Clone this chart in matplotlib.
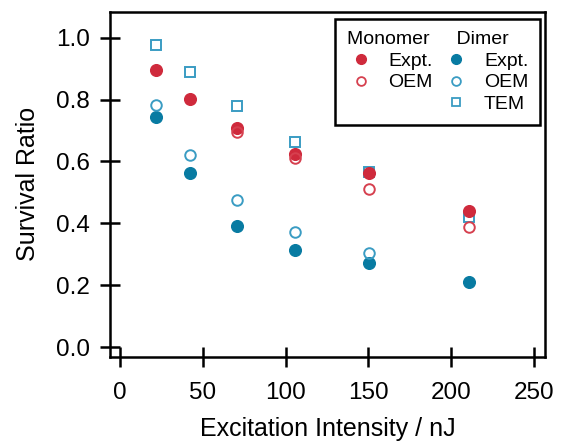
import numpy as np
import matplotlib
matplotlib.use("Agg")
import matplotlib.pyplot as plt
from matplotlib.lines import Line2D

plt.rcParams['font.family'] = ['Liberation Sans', 'DejaVu Sans']

# excitation intensity (nJ)
intensity = [21.5, 42, 70.5, 105.5, 150.5, 210.5]

# survival ratios
monomer_expt = [0.895, 0.803, 0.707, 0.623, 0.562, 0.440]
monomer_oem = [np.nan, np.nan, 0.695, 0.610, 0.511, 0.387]
dimer_expt = [0.744, 0.563, 0.392, 0.314, 0.271, 0.210]
dimer_oem = [0.783, 0.620, 0.477, 0.373, 0.303, np.nan]
dimer_tem = [0.976, 0.890, 0.779, 0.664, 0.567, 0.419]

red = '#cf2a3c'
red_open = '#d6404f'
blue = '#087ba2'
blue_open = '#3a9cc3'

fig = plt.figure(figsize=(5.64, 4.41), dpi=100)
ax = fig.add_axes([110 / 564, 1 - 357 / 441, 435 / 564, 345.3 / 441])

ms = 8.4
ax.plot(intensity, dimer_tem, 's', ms=7.6, mfc='none', mec=blue_open, mew=1.4)
ax.plot(intensity, monomer_expt, 'o', ms=ms, color=red, mec=red)
ax.plot(intensity, monomer_oem, 'o', ms=7.6, mfc='none', mec=red_open, mew=1.4)
ax.plot(intensity, dimer_expt, 'o', ms=ms, color=blue, mec=blue)
ax.plot(intensity, dimer_oem, 'o', ms=7.6, mfc='none', mec=blue_open, mew=1.4)

ax.set_xlim(-6, 256.6)
ax.set_ylim(-0.032, 1.084)
ax.set_xticks([0, 50, 100, 150, 200, 250])
ax.set_yticks([0.0, 0.2, 0.4, 0.6, 0.8, 1.0])
ax.yaxis.set_major_formatter(matplotlib.ticker.FormatStrFormatter('%.1f'))

for s in ax.spines.values():
    s.set_linewidth(1.8)
ax.tick_params(direction='inout', length=14.4, width=1.8, labelsize=17.5)
ax.tick_params(axis='x', pad=11)
ax.tick_params(axis='y', pad=7.5)

ax.set_xlabel('Excitation Intensity / nJ', fontsize=18, labelpad=9)
ax.set_ylabel('Survival Ratio', fontsize=18, labelpad=11)

# legend: two columns, monomer and dimer
blank = Line2D([], [], linestyle='none')
handles = [
    Line2D([], [], ls='none', marker='o', ms=7, color=red, mec=red),
    Line2D([], [], ls='none', marker='o', ms=6.3, mfc='none', mec=red_open, mew=1.3),
    blank,
    Line2D([], [], ls='none', marker='o', ms=7, color=blue, mec=blue),
    Line2D([], [], ls='none', marker='o', ms=6.3, mfc='none', mec=blue_open, mew=1.3),
    Line2D([], [], ls='none', marker='s', ms=6.3, mfc='none', mec=blue_open, mew=1.3),
]
labels = ['Expt.', 'OEM', '', 'Expt.', 'OEM', 'TEM']
leg = ax.legend(handles, labels, ncol=2, loc='upper right',
                bbox_to_anchor=(0.9885, 0.979), borderaxespad=0,
                title='Monomer     Dimer', title_fontsize=14,
                alignment='left', fontsize=14, frameon=True, fancybox=False,
                edgecolor='black', handlelength=1.44, handletextpad=0.7,
                columnspacing=0.5, labelspacing=0.22, borderpad=0.6)
leg.get_frame().set_linewidth(1.8)
leg.get_frame().set_alpha(1)

fig.savefig('out.png', dpi=100)
